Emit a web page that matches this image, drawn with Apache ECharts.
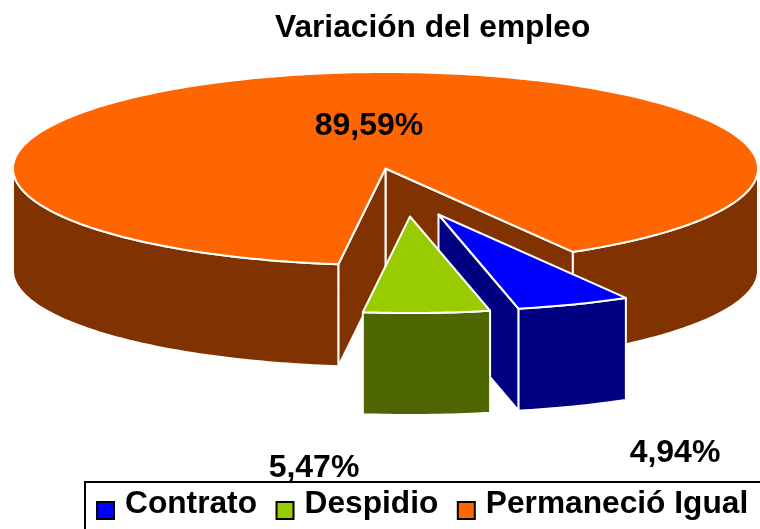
<!DOCTYPE html>
<html>
<head>
<meta charset="utf-8">
<style>html,body{margin:0;padding:0;background:#fff;overflow:hidden}#c{width:760px;height:529px}</style>
<script src="https://cdn.jsdelivr.net/npm/echarts@6/dist/echarts.min.js"></script>
</head>
<body>
<div id="c"></div>
<script>
const categories = ['Contrato', 'Despidio', 'Permaneció Igual'];
const values = [4.94, 5.47, 89.59];
const topColors = ['#0000FF', '#99CC00', '#FF6600'];
const sideColors = ['#000080', '#4D6600', '#803300'];
const drawOrder = [2, 0, 1];

const FONT = '"Liberation Sans", Arial, sans-serif';
const pie = { cx: 385.5, cy: 168.5, rx: 372.5, ry: 96.5, depth: 102, startDeg: 59.8 };
const explode = [[53, 46], [24.5, 48], [0, 0]];
const labelCenters = [[675, 453], [314, 468], [369, 126]];

const total = values.reduce((a, b) => a + b, 0);
const rad = d => d * Math.PI / 180;

function sliceRange(i) {
  let s = pie.startDeg;
  for (let k = 0; k < i; k++) s += values[k] / total * 360;
  return [s, s + values[i] / total * 360];
}
function pt(i, deg, down) {
  const o = explode[i];
  return [pie.cx + o[0] + pie.rx * Math.cos(rad(deg)),
          pie.cy + o[1] + pie.ry * Math.sin(rad(deg)) + (down ? pie.depth : 0)];
}
function arcPts(i, a, b, down) {
  const pts = [], n = Math.max(2, Math.ceil(Math.abs(b - a)));
  for (let k = 0; k <= n; k++) pts.push(pt(i, a + (b - a) * k / n, down));
  return pts;
}
function poly(points, fill, lw) {
  return { type: 'polygon', shape: { points: points },
           style: { fill: fill, stroke: '#fff', lineWidth: lw == null ? 2 : lw, lineJoin: 'round' } };
}
function apex(i, down) {
  const o = explode[i];
  return [pie.cx + o[0], pie.cy + o[1] + (down ? pie.depth : 0)];
}
function radialFace(i, deg, fill) {
  return poly([apex(i, false), pt(i, deg, false), pt(i, deg, true), apex(i, true)], fill);
}
function wall(i, a, b, fill) {
  return poly(arcPts(i, a, b, false).concat(arcPts(i, b, a, true)), fill);
}

function renderSlice(i) {
  const [a, b] = sliceRange(i);
  const side = sideColors[i], kids = [];
  // radial faces whose outward side looks down toward the viewer
  if (i === 2) {
    kids.push(radialFace(i, b, side));
    kids.push(radialFace(i, a, side));
    kids.push(wall(i, a, 180, side));
    kids.push(wall(i, 360, b, side));
  } else {
    if (i === 0) kids.push(radialFace(i, b, side));
    kids.push(wall(i, a, b, side));
  }
  kids.push(poly([apex(i, false)].concat(arcPts(i, a, b, false)), topColors[i]));
  kids.push({
    type: 'text',
    z2: 10,
    style: {
      x: labelCenters[i][0], y: labelCenters[i][1],
      text: values[i].toFixed(2).replace('.', ',') + '%',
      font: 'bold 32px ' + FONT, fill: '#000',
      textAlign: 'center', textVerticalAlign: 'middle'
    }
  });
  return { type: 'group', children: kids };
}

const chart = echarts.init(document.getElementById('c'), null, { renderer: 'canvas' });
chart.setOption({
  animation: false,
  backgroundColor: '#fff',
  title: {
    text: 'Variación del empleo', left: 275, top: 12, padding: 0,
    textStyle: { fontFamily: FONT, fontWeight: 'bold', fontSize: 31.7, color: '#000' }
  },
  legend: {
    data: categories,
    left: 96, top: 486, padding: 0,
    orient: 'horizontal',
    itemWidth: 17, itemHeight: 34, itemGap: 18.5,
    // square sits low in a taller icon box, so it hangs below the text's centre
    icon: 'path://M0,0L0,0M0,15L17,15L17,32L0,32ZM0,34L0,34',
    selectedMode: false,
    itemStyle: { borderColor: '#000', borderWidth: 2 },
    textStyle: { fontFamily: FONT, fontWeight: 'bold', fontSize: 31.7, color: '#000',
                 padding: [0, 0, 0, 6] }
  },
  graphic: [{
    type: 'rect', z: -1, silent: true,
    shape: { x: 85, y: 482, width: 720, height: 80 },
    style: { fill: '#fff', stroke: '#000', lineWidth: 2 }
  }],
  series: drawOrder.map(i => ({
    type: 'custom',
    name: categories[i],
    coordinateSystem: 'none',
    silent: true,
    z: 2,
    itemStyle: { color: topColors[i] },
    data: [[values[i]]],
    renderItem: () => renderSlice(i)
  }))
});
</script>
</body>
</html>
